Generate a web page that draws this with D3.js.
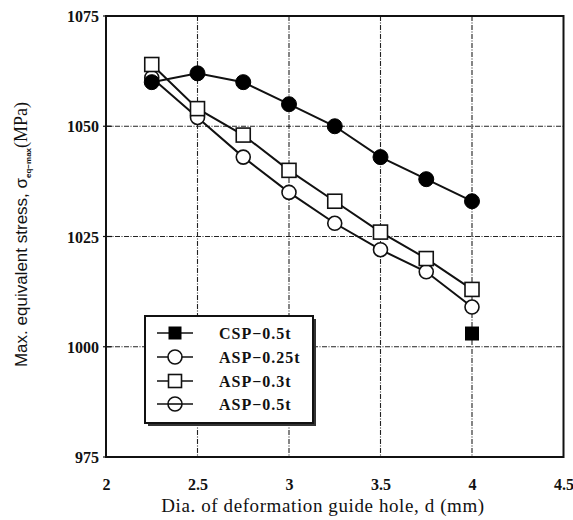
<!DOCTYPE html>
<html><head><meta charset="utf-8">
<script src="https://cdn.jsdelivr.net/npm/d3@7"></script>
<style>body{margin:0;background:#fff}svg{display:block}</style>
</head><body>
<svg id="c" width="573" height="520"></svg>
<script>
const xValues = [2.25, 2.5, 2.75, 3, 3.25, 3.5, 3.75, 4];
const filledCircle = [1060, 1062, 1060, 1055, 1050, 1043, 1038, 1033];
const asp025t = [1061, 1052, 1043, 1035, 1028, 1022, 1017, 1009];
const asp03t = [1064, 1054, 1048, 1040, 1033, 1026, 1020, 1013];
const cspX = [4];
const csp05t = [1003];
const xTicks = [2, 2.5, 3, 3.5, 4, 4.5];
const yTicks = [975, 1000, 1025, 1050, 1075];
const legendLabels = ["CSP\u22120.5t", "ASP\u22120.25t", "ASP\u22120.3t", "ASP\u22120.5t"];

const svg = d3.select("#c");
const L = 106, R = 563.5, T = 16, B = 457;
const x = d3.scaleLinear().domain([2, 4.5]).range([L, R]);
const y = d3.scaleLinear().domain([975, 1075]).range([B, T]);
const serif = "'Liberation Serif', serif";

// grid
const g = svg.append("g");
g.selectAll(".vg").data(xTicks.filter(d => d > 2 && d < 4.5)).enter().append("line")
  .attr("x1", d => x(d)).attr("x2", d => x(d)).attr("y1", T).attr("y2", B)
  .attr("stroke", "#222").attr("stroke-width", 1.1).attr("stroke-dasharray", "5,1.5,1,1.5");
g.selectAll(".hg").data(yTicks.filter(d => d > 975 && d < 1075)).enter().append("line")
  .attr("x1", L).attr("x2", R).attr("y1", d => y(d)).attr("y2", d => y(d))
  .attr("stroke", "#222").attr("stroke-width", 1.1).attr("stroke-dasharray", "5,1.5,1,1.5");

// axes
const xAxis = svg.append("g").attr("transform", `translate(0,${B})`)
  .call(d3.axisBottom(x).tickValues(xTicks).tickSize(0).tickFormat(d3.format("")));
xAxis.select(".domain").remove();
xAxis.selectAll("text").attr("dy", 0).attr("y", 33)
  .style("font-family", serif).style("font-size", "16px").style("font-weight", "bold").attr("fill", "#111");
const yAxis = svg.append("g").attr("transform", `translate(${L},0)`)
  .call(d3.axisLeft(y).tickValues(yTicks).tickSize(0).tickFormat(d3.format("")));
yAxis.select(".domain").remove();
yAxis.selectAll("text").attr("x", -7).attr("dy", "0.35em")
  .style("font-family", serif).style("font-size", "16px").style("font-weight", "bold").attr("fill", "#111");
svg.selectAll(".yt").data(yTicks).enter().append("line")
  .attr("x1", L - 3).attr("x2", L + 6).attr("y1", d => y(d)).attr("y2", d => y(d))
  .attr("stroke", "#111").attr("stroke-width", 1.2);

// frame
svg.append("rect").attr("x", L).attr("y", T).attr("width", R - L).attr("height", B - T)
  .attr("fill", "none").attr("stroke", "#111").attr("stroke-width", 2);

// series lines
const line = d3.line().x(d => x(d[0])).y(d => y(d[1]));
function series(vals) { return xValues.map((xv, i) => [xv, vals[i]]); }
[filledCircle, asp025t, asp03t].forEach(v => {
  svg.append("path").datum(series(v)).attr("d", line)
    .attr("fill", "none").attr("stroke", "#111").attr("stroke-width", 2);
});

const r = 7, s = 14;
svg.selectAll(".oc").data(series(asp025t)).enter().append("circle")
  .attr("cx", d => x(d[0])).attr("cy", d => y(d[1])).attr("r", r)
  .attr("fill", "#fff").attr("stroke", "#111").attr("stroke-width", 1.6);
svg.selectAll(".os").data(series(asp03t)).enter().append("rect")
  .attr("x", d => x(d[0]) - s / 2).attr("y", d => y(d[1]) - s / 2).attr("width", s).attr("height", s)
  .attr("fill", "#fff").attr("stroke", "#111").attr("stroke-width", 1.6);
svg.selectAll(".fc").data(series(filledCircle)).enter().append("circle")
  .attr("cx", d => x(d[0])).attr("cy", d => y(d[1])).attr("r", r + 0.5)
  .attr("fill", "#000").attr("stroke", "#000").attr("stroke-width", 1);
svg.selectAll(".fs").data(cspX.map((xv, i) => [xv, csp05t[i]])).enter().append("rect")
  .attr("x", d => x(d[0]) - s / 2).attr("y", d => y(d[1]) - s / 2).attr("width", s).attr("height", s)
  .attr("fill", "#000");

// legend
const lg = svg.append("g");
lg.append("rect").attr("x", 148).attr("y", 319).attr("width", 168).attr("height", 107).attr("fill", "#333");
lg.append("rect").attr("x", 145).attr("y", 316).attr("width", 168).attr("height", 107)
  .attr("fill", "#fff").attr("stroke", "#111").attr("stroke-width", 2);
const rowsY = [333, 357, 381, 404];
legendLabels.forEach((lab, i) => {
  const yy = rowsY[i], cx = 175;
  lg.append("line").attr("x1", 157).attr("x2", 193).attr("y1", yy).attr("y2", yy)
    .attr("stroke", "#111").attr("stroke-width", 1.6);
  if (i === 0) {
    lg.append("rect").attr("x", cx - 6.5).attr("y", yy - 6.5).attr("width", 13).attr("height", 13).attr("fill", "#000");
  } else if (i === 1) {
    lg.append("circle").attr("cx", cx).attr("cy", yy).attr("r", 7).attr("fill", "#fff").attr("stroke", "#111").attr("stroke-width", 1.6);
  } else if (i === 2) {
    lg.append("rect").attr("x", cx - 6.5).attr("y", yy - 6.5).attr("width", 13).attr("height", 13)
      .attr("fill", "#fff").attr("stroke", "#111").attr("stroke-width", 1.6);
  } else {
    lg.append("circle").attr("cx", cx).attr("cy", yy).attr("r", 7).attr("fill", "#fff").attr("stroke", "#111").attr("stroke-width", 1.6);
    lg.append("line").attr("x1", cx - 7).attr("x2", cx + 7).attr("y1", yy).attr("y2", yy).attr("stroke", "#111").attr("stroke-width", 1.6);
  }
  lg.append("text").attr("x", 219).attr("y", yy).attr("dy", "0.35em").text(lab)
    .style("font-family", serif).style("font-size", "16px").style("font-weight", "bold")
    .style("letter-spacing", "1px").attr("fill", "#111");
});

// axis titles
svg.append("text").attr("x", 323).attr("y", 512).attr("text-anchor", "middle")
  .style("font-family", serif).style("font-size", "19px").style("letter-spacing", "0.6px").attr("fill", "#111")
  .text("Dia. of deformation guide hole, d (mm)");
const yl = svg.append("text").attr("transform", `translate(27,${(T + B) / 2 - 2}) rotate(-90)`).attr("text-anchor", "middle")
  .style("font-family", "'Liberation Sans', sans-serif").style("font-size", "17px").attr("fill", "#111");
yl.append("tspan").text("Max. equivalent stress, \u03c3");
yl.append("tspan").attr("dy", 4).style("font-size", "8px").style("font-weight", "bold").text("eq\u2212max");
yl.append("tspan").attr("dy", -4).style("font-family", serif).style("font-size", "18px").text("(MPa)");
</script>
</body></html>
